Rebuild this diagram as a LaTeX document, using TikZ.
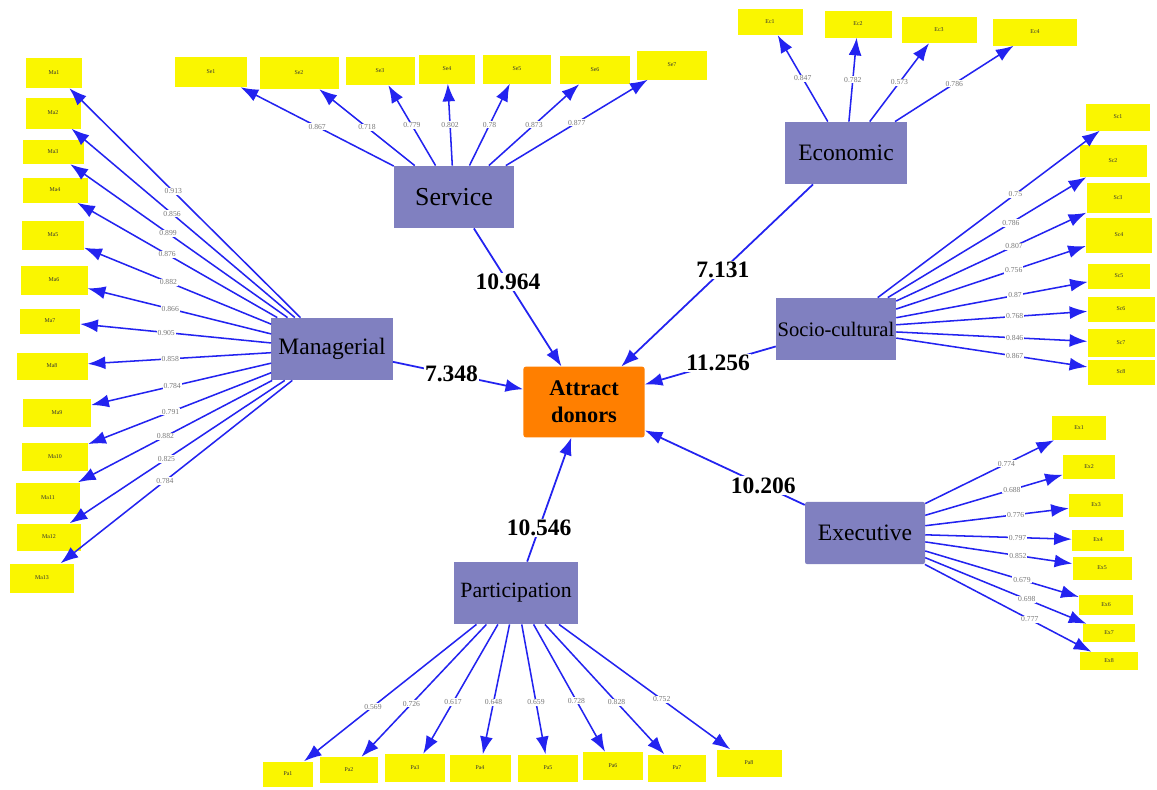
\documentclass[tikz,border=0pt]{standalone}
\usepackage{fontspec}
\setmainfont{Liberation Serif}
\usetikzlibrary{arrows.meta}
\definecolor{lat}{RGB}{128,128,192}
\definecolor{org}{RGB}{255,127,0}
\definecolor{edg}{RGB}{35,35,240}
\definecolor{yel}{RGB}{250,246,0}
\definecolor{lbl}{RGB}{120,120,120}
\begin{document}
\begin{tikzpicture}[x=0.85pt,y=-0.85pt,
  latent/.style={fill=lat, inner sep=0pt, minimum width=102pt, minimum height=53pt, font=\fontsize{20}{24}\selectfont},
  target/.style={fill=org, rounded corners=2pt, inner sep=0pt, minimum width=103pt, minimum height=60pt, align=center, font=\bfseries\fontsize{19}{23}\selectfont},
  ybox/.style={fill=yel, inner sep=0pt, font=\fontsize{5}{6}\selectfont, text=black!80},
  sarr/.style={draw=edg, line width=1.3pt, -{Latex[length=15pt,width=11pt]}},
  marr/.style={draw=edg, line width=1.5pt, -{Latex[length=15pt,width=11pt]}},
  elab/.style={fill=white, inner sep=0.8pt, text=lbl, font=\fontsize{6.5}{7}\selectfont},
  blab/.style={fill=white, inner sep=1pt, text=black, font=\bfseries\fontsize{20}{24}\selectfont}]

\fill[white] (0,0) rectangle (1157,789);
\useasboundingbox (0,0) rectangle (1157,789);

% latent nodes
\node[target] (att) at (584,402) {Attract\\donors};
\node[latent, font=\fontsize{22}{26}\selectfont] (svc) at (454,197) {Service};
\node[latent, minimum width=104pt] (eco) at (846,153) {Economic};
\node[latent] (soc) at (836,329) {\fontsize{17.5}{20}\selectfont Socio-cultural};
\node[latent, minimum width=103pt] (man) at (332,349) {Managerial};
\node[latent, rounded corners=2pt] (exe) at (865,533) {Executive};
\node[latent, minimum width=105pt] (par) at (516,593) {\fontsize{18.5}{22}\selectfont Participation};

% Managerial indicators
\foreach \i/\x/\y/\w/\h in {1/54/73/56/30,2/53/113/55/31,3/53/152/61/24,4/55/190/65/25,5/53/235/62/29,6/54/280/67/29,7/50/321/60/25,8/52/366/71/27,9/57/413/68/28,10/55/457/66/28,11/48/498/64/31,12/49/537/64/27,13/42/578/64/29}
  \node[ybox, minimum width={\w*0.85pt}, minimum height={\h*0.85pt}] (m\i) at (\x,\y) {Ma\i};
\foreach \i/\v in {1/0.913,2/0.856,3/0.899,4/0.876,5/0.882,6/0.866,7/0.905,8/0.858,9/0.784,10/0.791,11/0.882,12/0.825,13/0.784}
  \draw[sarr] (man) -- node[elab, pos=0.55]{\v} (m\i);

% Service indicators
\foreach \i/\x/\y/\w/\h in {1/211/72/72/30,2/299/73/79/32,3/380/71/69/28,4/447/69/56/29,5/517/69/68/29,6/595/70/70/28,7/672/65/70/29}
  \node[ybox, minimum width={\w*0.85pt}, minimum height={\h*0.85pt}] (s\i) at (\x,\y) {Se\i};
\foreach \i/\v in {1/0.867,2/0.718,3/0.779,4/0.802,5/0.78,6/0.873,7/0.877}
  \draw[sarr] (svc) -- node[elab, pos=0.5]{\v} (s\i);

% Economic indicators
\foreach \i/\x/\y/\w/\h in {1/770/22/65/26,2/858/24/67/27,3/939/30/75/26,4/1035/32/84/27}
  \node[ybox, minimum width={\w*0.85pt}, minimum height={\h*0.85pt}] (e\i) at (\x,\y) {Ec\i};
\foreach \i/\v in {1/0.847,2/0.782,3/0.573,4/0.786}
  \draw[sarr] (eco) -- node[elab, pos=0.5]{\v} (e\i);

% Socio-cultural indicators
\foreach \i/\x/\y/\w/\h in {1/1118/117/64/27,2/1113/161/67/32,3/1118/198/63/30,4/1119/235/66/35,5/1119/276/62/25,6/1121/309/67/25,7/1121/343/67/28,8/1121/372/67/25}
  \node[ybox, minimum width={\w*0.85pt}, minimum height={\h*0.85pt}] (c\i) at (\x,\y) {Sc\i};
\foreach \i/\v in {1/0.75,2/0.786,3/0.807,4/0.756,5/0.87,6/0.768,7/0.846,8/0.867}
  \draw[sarr] (soc) -- node[elab, pos=0.62]{\v} (c\i);

% Executive indicators
\foreach \i/\x/\y/\w/\h in {1/1079/428/54/24,2/1089/467/52/24,3/1096/505/54/23,4/1098/540/52/21,5/1102/568/59/23,6/1106/605/54/20,7/1109/633/52/18,8/1109/661/58/18}
  \node[ybox, minimum width={\w*0.85pt}, minimum height={\h*0.85pt}] (x\i) at (\x,\y) {Ex\i};
\foreach \i/\v in {1/0.774,2/0.688,3/0.776,4/0.797,5/0.852,6/0.679,7/0.698,8/0.777}
  \draw[sarr] (exe) -- node[elab, pos=0.63]{\v} (x\i);

% Participation indicators
\foreach \i/\x/\y/\w/\h in {1/288/774/50/25,2/349/770/58/26,3/415/768/60/28,4/480/768/61/27,5/548/768/60/27,6/613/766/60/28,7/677/768/58/27,8/749/763/65/27}
  \node[ybox, minimum width={\w*0.85pt}, minimum height={\h*0.85pt}] (p\i) at (\x,\y) {Pa\i};
\foreach \i/\v in {1/0.569,2/0.726,3/0.617,4/0.648,5/0.659,6/0.728,7/0.828,8/0.752}
  \draw[sarr] (par) -- node[elab, pos=0.6]{\v} (p\i);

% structural paths
\draw[marr] (svc) -- node[blab, pos=0.39]{10.964} (att);
\draw[marr] (eco) -- node[blab, pos=0.47]{7.131} (att);
\draw[marr] (man) -- node[blab, pos=0.45]{7.348} (att);
\draw[marr] (soc) -- node[blab, pos=0.44]{11.256} (att);
\draw[marr] (exe) -- node[blab, pos=0.26]{10.206} (att);
\draw[marr] (par) -- node[blab, pos=0.27]{10.546} (att);
\end{tikzpicture}
\end{document}
